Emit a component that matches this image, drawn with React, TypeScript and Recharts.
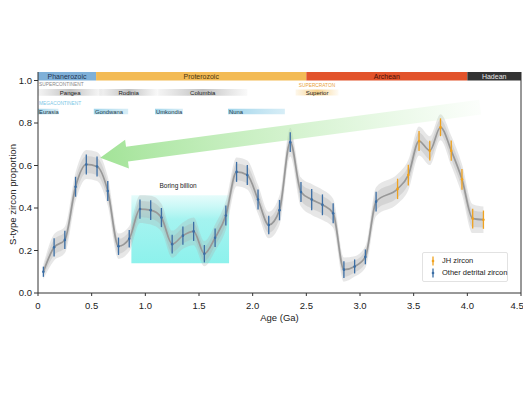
import React from 'react';
import {
  ComposedChart, Line, Area, Scatter, ErrorBar, XAxis, YAxis,
  ReferenceArea, ReferenceLine, ReferenceDot,
} from 'recharts';

// ---------- data ----------
const otherAges = [0.05, 0.15, 0.25, 0.35, 0.45, 0.55, 0.65, 0.75, 0.85, 0.95, 1.05, 1.15, 1.25, 1.35, 1.45, 1.55, 1.65, 1.75, 1.85, 1.95, 2.05, 2.15, 2.25, 2.35, 2.45, 2.55, 2.65, 2.75, 2.85, 2.95, 3.05, 3.15];
const otherValues = [0.10, 0.215, 0.25, 0.50, 0.605, 0.595, 0.48, 0.22, 0.255, 0.395, 0.39, 0.355, 0.23, 0.27, 0.29, 0.185, 0.26, 0.365, 0.57, 0.555, 0.44, 0.32, 0.39, 0.71, 0.475, 0.44, 0.415, 0.375, 0.11, 0.125, 0.17, 0.43];
const otherErrors = [0.024, 0.043, 0.043, 0.047, 0.047, 0.047, 0.047, 0.041, 0.041, 0.045, 0.047, 0.045, 0.044, 0.043, 0.045, 0.041, 0.043, 0.047, 0.047, 0.047, 0.047, 0.043, 0.048, 0.047, 0.047, 0.05, 0.049, 0.047, 0.039, 0.033, 0.035, 0.047];

const jhAges = [3.35, 3.45, 3.55, 3.65, 3.75, 3.85, 3.95, 4.05, 4.15];
const jhValues = [0.49, 0.555, 0.715, 0.67, 0.78, 0.67, 0.535, 0.35, 0.345];
const jhErrors = [0.048, 0.049, 0.047, 0.047, 0.042, 0.048, 0.049, 0.047, 0.043];

const xTicks = [0, 0.5, 1.0, 1.5, 2.0, 2.5, 3.0, 3.5, 4.0, 4.5];
const yTicks = [0, 0.2, 0.4, 0.6, 0.8, 1.0];

const eraNames = ['Phanerozoic', 'Proterozoic', 'Archean', 'Hadean'];
const eraStart = [0, 0.541, 2.5, 4.0];
const eraEnd = [0.541, 2.5, 4.0, 4.5];

const superNames = ['Pangea', 'Rodinia', 'Columbia'];
const superStart = [0, 0.57, 1.12];
const superEnd = [0.6, 1.12, 1.95];

const megaNames = ['Eurasia', 'Gondwana', 'Umkondia', 'Nuna'];
const megaStart = [0, 0.52, 1.09, 1.77];
const megaEnd = [0.19, 0.84, 1.35, 2.3];

const cratonNames = ['Superior'];
const cratonStart = [2.4];
const cratonEnd = [2.8];

const seriesNames = ['JH zircon', 'Other detrital zircon'];

const boringBillion = { from: 0.87, to: 1.78, low: 0.14, high: 0.46 };
const trendArrow = { fromAge: 4.12, fromValue: 0.875, toAge: 0.58, toValue: 0.637 };

// ---------- styles ----------
const FONT = '"Liberation Sans", Arial, sans-serif';
const eraColors = ['#7fb0d8', '#f3bb55', '#e2532b', '#333333'];
const eraText = ['#1f3550', '#4a3510', '#4a1208', '#e8e8e8'];
const BLUE = '#3b6ea5';
const ORANGE = '#f0a21e';

// ---------- tables ----------
const otherData = otherAges.map((a, i) => ({ age: a, value: otherValues[i], err: otherErrors[i] }));
const jhData = jhAges.map((a, i) => ({ age: a, value: jhValues[i], err: jhErrors[i] }));
const curveData = [...otherData, ...jhData]
  .sort((a, b) => a.age - b.age)
  .map((d) => ({
    age: d.age,
    value: d.value,
    outer: [d.value - d.err * 1.45, d.value + d.err * 1.45],
    inner: [d.value - d.err * 0.85, d.value + d.err * 0.85],
  }));

const TextMark = (props: any) => {
  const { cx, cy, text, color, size, anchor } = props;
  return (
    <text x={cx} y={cy} fill={color} fontSize={size} fontFamily={FONT} textAnchor={anchor || 'start'} dominantBaseline="central">
      {text}
    </text>
  );
};

const ArrowShape = (props: any) => {
  const { x1, y1, x2, y2 } = props;
  if ([x1, y1, x2, y2].some((v) => typeof v !== 'number' || isNaN(v))) return null;
  const dx = x2 - x1;
  const dy = y2 - y1;
  const len = Math.sqrt(dx * dx + dy * dy);
  const ux = dx / len;
  const uy = dy / len;
  const nx = -uy;
  const ny = ux;
  const headLen = 27;
  const headHalf = 14.5;
  const bodyHalf = 7.5;
  const bx = x2 - ux * headLen;
  const by = y2 - uy * headLen;
  const pts = [
    [x1 + nx * bodyHalf, y1 + ny * bodyHalf],
    [bx + nx * bodyHalf, by + ny * bodyHalf],
    [bx + nx * headHalf, by + ny * headHalf],
    [x2, y2],
    [bx - nx * headHalf, by - ny * headHalf],
    [bx - nx * bodyHalf, by - ny * bodyHalf],
    [x1 - nx * bodyHalf, y1 - ny * bodyHalf],
  ];
  return (
    <g>
      <defs>
        <linearGradient id="arrowGrad" gradientUnits="userSpaceOnUse" x1={x1} y1={y1} x2={x2} y2={y2}>
          <stop offset="0" stopColor="#b8ecb0" stopOpacity={0.05} />
          <stop offset="0.5" stopColor="#b0e8a6" stopOpacity={0.55} />
          <stop offset="1" stopColor="#98e08c" stopOpacity={0.9} />
        </linearGradient>
      </defs>
      <polygon points={pts.map((p) => p.join(',')).join(' ')} fill="url(#arrowGrad)" />
    </g>
  );
};

const ErrIcon = ({ color }: { color: string }) => (
  <svg width={8} height={10} style={{ verticalAlign: 'middle', marginRight: 5 }}>
    <line x1={4} y1={0.5} x2={4} y2={9.5} stroke={color} strokeWidth={1.3} />
    <circle cx={4} cy={5} r={1.3} fill={color} />
  </svg>
);

const LegendBox = () => (
  <div style={{ position: 'absolute', left: 422, top: 252, width: 86, boxSizing: 'border-box', border: '1px solid #e2e2e2', background: '#fff', padding: '2px 4px 2px 6px', fontFamily: FONT, fontSize: 7.5, color: '#222', lineHeight: '12px', borderRadius: 2, whiteSpace: 'nowrap' }}>
    <div><ErrIcon color={ORANGE} />{seriesNames[0]}</div>
    <div><ErrIcon color={BLUE} />{seriesNames[1]}</div>
  </div>
);

export default function App() {
  return (
    <div style={{ position: 'absolute', left: 0, top: 0, width: 523, height: 393, background: '#fff' }}>
      <ComposedChart width={523} height={393} data={curveData} margin={{ top: 72, right: 2, bottom: 70, left: 0 }}>
        <defs>
          <linearGradient id="grayBar" x1="0" y1="0" x2="1" y2="0">
            <stop offset="0" stopColor="#c8c8c8" stopOpacity={0.2} />
            <stop offset="0.5" stopColor="#b8b8b8" stopOpacity={0.9} />
            <stop offset="1" stopColor="#c8c8c8" stopOpacity={0.1} />
          </linearGradient>
          <linearGradient id="blueBar" x1="0" y1="0" x2="1" y2="0">
            <stop offset="0" stopColor="#9fd4ea" stopOpacity={1} />
            <stop offset="1" stopColor="#c6e6f3" stopOpacity={0.7} />
          </linearGradient>
          <linearGradient id="orangeBar" x1="0" y1="0" x2="1" y2="0">
            <stop offset="0" stopColor="#f8d89a" stopOpacity={0.2} />
            <stop offset="0.5" stopColor="#f6d08a" stopOpacity={1} />
            <stop offset="1" stopColor="#f8d89a" stopOpacity={0.1} />
          </linearGradient>
          <linearGradient id="cyanBox" x1="0" y1="0" x2="0" y2="1">
            <stop offset="0" stopColor="#aaf5f2" stopOpacity={0.3} />
            <stop offset="0.35" stopColor="#8ef0ec" stopOpacity={0.8} />
            <stop offset="1" stopColor="#80f0ea" stopOpacity={0.9} />
          </linearGradient>
        </defs>

        <XAxis
          type="number" dataKey="age" domain={[0, 4.5]} ticks={xTicks}
          tickFormatter={(v: number) => (v === 0 ? '0' : v.toFixed(1))}
          tick={{ fontSize: 9.5, fill: '#222', fontFamily: FONT }}
          axisLine={{ stroke: '#333' }} tickLine={{ stroke: '#333' }} tickSize={3} tickMargin={6}
          height={30}
          label={{ value: 'Age (Ga)', position: 'insideBottom', offset: 2, fontSize: 9.5, fill: '#222', fontFamily: FONT }}
          allowDataOverflow
        />
        <YAxis
          type="number" domain={[0, 1.04]} ticks={yTicks}
          tickFormatter={(v: number) => v.toFixed(1)}
          tick={{ fontSize: 9.5, fill: '#222', fontFamily: FONT }}
          axisLine={{ stroke: '#333' }} tickLine={{ stroke: '#333' }} tickSize={4}
          width={38}
          label={{ value: 'S-type zircon proportion', angle: -90, position: 'center', dx: -6, dy: 12, fontSize: 9.5, fill: '#222', fontFamily: FONT }}
          allowDataOverflow
        />

        <ReferenceArea x1={boringBillion.from} x2={boringBillion.to} y1={boringBillion.low} y2={boringBillion.high} fill="url(#cyanBox)" fillOpacity={1} stroke="none" />
        <ReferenceDot x={(boringBillion.from + boringBillion.to) / 2 - 0.02} y={0.505} r={0} shape={(p: any) => <TextMark {...p} text="Boring billion" color="#222" size={6.5} anchor="middle" />} />

        <ReferenceLine segment={[{ x: trendArrow.fromAge, y: trendArrow.fromValue }, { x: trendArrow.toAge, y: trendArrow.toValue }]} shape={(p: any) => <ArrowShape {...p} />} />

        <Area type="monotone" dataKey="outer" fill="#b0b0b0" fillOpacity={0.3} stroke="none" isAnimationActive={false} />
        <Area type="monotone" dataKey="inner" fill="#a8a8a8" fillOpacity={0.3} stroke="none" isAnimationActive={false} />
        <Line type="monotone" dataKey="value" stroke="#989898" strokeWidth={1.7} dot={false} isAnimationActive={false} />

        <Scatter data={otherData} dataKey="value" fill={BLUE} shape={(p: any) => <circle cx={p.cx} cy={p.cy} r={1.3} fill={BLUE} />} isAnimationActive={false}>
          <ErrorBar dataKey="err" direction="y" width={0} stroke={BLUE} strokeWidth={1.3} />
        </Scatter>
        <Scatter data={jhData} dataKey="value" fill={ORANGE} shape={(p: any) => <circle cx={p.cx} cy={p.cy} r={1.3} fill={ORANGE} />} isAnimationActive={false}>
          <ErrorBar dataKey="err" direction="y" width={0} stroke={ORANGE} strokeWidth={1.3} />
        </Scatter>

        {eraNames.map((n, i) => (
          <ReferenceArea key={n} x1={eraStart[i]} x2={eraEnd[i]} y1={1.0} y2={1.04} fill={eraColors[i]} fillOpacity={1} stroke="none"
            label={{ value: n, position: 'center', fontSize: 7, fill: eraText[i], fontFamily: FONT }} />
        ))}

        <ReferenceDot x={0.01} y={0.982} r={0} shape={(p: any) => <TextMark {...p} text="SUPERCONTINENT" color="#888" size={4.8} />} />
        {superNames.map((n, i) => (
          <ReferenceArea key={n} x1={superStart[i]} x2={superEnd[i]} y1={0.928} y2={0.96} fill="url(#grayBar)" fillOpacity={1} stroke="none"
            label={{ value: n, position: 'center', fontSize: 6, fill: '#222', fontFamily: FONT }} />
        ))}
        <ReferenceDot x={0.01} y={0.893} r={0} shape={(p: any) => <TextMark {...p} text="MEGACONTINENT" color="#7cc7e6" size={4.8} />} />
        {megaNames.map((n, i) => (
          <ReferenceArea key={n} x1={megaStart[i]} x2={megaEnd[i]} y1={0.841} y2={0.867} fill="url(#blueBar)" fillOpacity={1} stroke="none" />
        ))}
        {megaNames.map((n, i) => (
          <ReferenceDot key={n + 't'} x={megaStart[i] + 0.01} y={0.854} r={0} shape={(p: any) => <TextMark {...p} text={n} color="#1e3a4a" size={5.8} />} />
        ))}
        <ReferenceDot x={2.43} y={0.978} r={0} shape={(p: any) => <TextMark {...p} text="SUPERCRATON" color="#e8a23a" size={4.8} />} />
        {cratonNames.map((n, i) => (
          <ReferenceArea key={n} x1={cratonStart[i]} x2={cratonEnd[i]} y1={0.93} y2={0.958} fill="url(#orangeBar)" fillOpacity={1} stroke="none"
            label={{ value: n, position: 'center', fontSize: 6, fill: '#222', fontFamily: FONT }} />
        ))}

        <ReferenceLine x={4.5} stroke="#333" strokeWidth={1} />
      </ComposedChart>
      <LegendBox />
    </div>
  );
}
